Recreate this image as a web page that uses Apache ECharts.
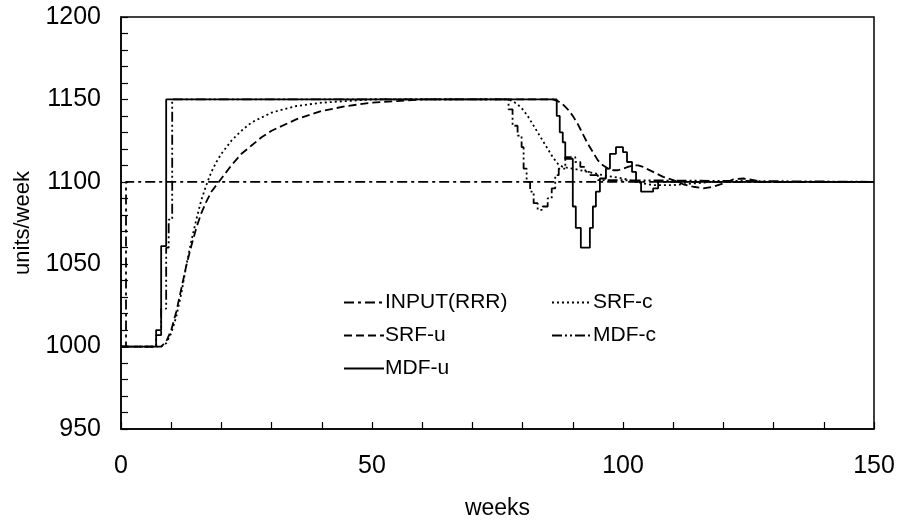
<!DOCTYPE html>
<html><head><meta charset="utf-8">
<script src="https://cdn.jsdelivr.net/npm/echarts@6/dist/echarts.min.js"></script>
<style>html,body{margin:0;padding:0;background:#fff}#c{width:901px;height:521px}</style>
</head><body><div id="c"></div>
<script>
// ---- data (weeks, units/week) ----
const inputWeeks  = [0, 1, 150];
const inputValues = [1000, 1100, 1100];

const srfUWeeks  = [0, 8, 9, 10, 11, 12, 13, 14, 15, 16, 17, 18, 19, 20, 22, 24, 26, 28, 30, 35, 40, 45, 50, 55, 60, 86, 87, 88, 89, 90, 91, 92, 93, 94, 95, 96, 97, 98, 99, 100, 101, 102, 103, 104, 106, 108, 110, 112, 114, 116, 118, 120, 122, 124, 126, 128, 130, 150];
const srfUValues = [1000, 1000, 1003, 1010, 1021, 1035, 1049, 1061, 1072, 1081, 1088, 1094, 1098, 1102, 1110, 1117, 1122, 1127, 1131, 1138, 1143, 1146, 1148, 1149, 1150, 1150, 1149, 1147, 1144, 1140, 1135, 1129, 1123, 1118, 1113, 1110, 1108, 1107, 1107, 1108, 1109, 1110, 1110, 1109, 1106, 1103, 1101, 1098.5, 1097, 1096, 1097, 1099, 1101.5, 1102, 1101, 1100, 1100, 1100];

const srfCWeeks  = [0, 8, 9, 10, 11, 12, 13, 14, 15, 16, 17, 18, 19, 20, 22, 24, 26, 28, 30, 35, 40, 45, 50, 77, 78, 79, 80, 81, 82, 83, 84, 85, 86, 87, 88, 90, 93, 96, 100, 104, 106, 110, 114, 118, 150];
const srfCValues = [1000, 1000, 1002, 1008, 1018, 1032, 1049, 1064, 1077, 1089, 1098, 1106, 1112, 1117, 1125, 1131, 1136, 1139, 1142, 1146, 1148, 1149, 1150, 1150, 1149, 1147, 1144, 1140, 1135, 1130, 1125, 1120, 1115, 1111, 1109, 1108, 1106, 1104, 1102, 1099, 1098, 1098, 1099, 1100, 1100];

// step series: value holds from week[i] until week[i+1]
const mdfCWeeks  = [0, 7, 8, 9, 9.5, 10.2, 77.2, 78, 79, 79.8, 80.2, 80.8, 81.5, 82.2, 83, 84, 85, 85.8, 86.5, 87.2, 88.5, 90.5, 91.5, 92.5, 93.5, 95, 96, 150];
const mdfCValues = [1000, 1007, 1023, 1060, 1077, 1150, 1144, 1134, 1128, 1121, 1108, 1100, 1094, 1087, 1083, 1085, 1090, 1096, 1104, 1108, 1115, 1112, 1109, 1106, 1104, 1101, 1100, 1100];

const mdfUWeeks  = [0, 7, 8, 9, 86.8, 87.4, 88, 88.5, 90, 90.6, 91.6, 93.4, 94, 94.6, 95.4, 96.6, 97.4, 98.6, 100, 100.8, 101.8, 102.6, 103.6, 106, 107, 150];
const mdfUValues = [1000, 1010, 1061, 1150, 1140, 1130, 1124, 1114, 1085, 1072, 1060, 1072, 1085, 1094, 1102, 1108, 1117, 1121, 1118, 1112, 1106, 1100, 1094, 1096, 1100, 1100];

const xTicks = [0, 50, 100, 150];
const yTicks = [950, 1000, 1050, 1100, 1150, 1200];

const zip = (xs, ys) => xs.map((x, i) => [x, ys[i]]);

const FONT = 'Liberation Sans';
const chart = echarts.init(document.getElementById('c'), null, {renderer: 'canvas'});

function lineSeries(name, xs, ys, type, step) {
  return {
    name, type: 'line', data: zip(xs, ys), step: step || false,
    symbol: 'none', showSymbol: false, smooth: false,
    lineStyle: {color: '#000', width: 1.8, type},
    itemStyle: {color: '#000'},
    z: 3
  };
}

const legendBase = {
  orient: 'vertical', top: 287,
  itemWidth: 40, itemHeight: 14, itemGap: 12,
  itemStyle: {opacity: 0},
  textStyle: {fontSize: 21, fontFamily: FONT, color: '#000', padding: [0, 0, 0, -4]}
};

chart.setOption({
  animation: false,
  backgroundColor: '#fff',
  textStyle: {fontFamily: FONT, color: '#000'},
  grid: {left: 121, right: 27, top: 17, bottom: 92, containLabel: false, outerBoundsMode: 'none',
         show: true, borderColor: '#000', borderWidth: 1.5, backgroundColor: 'transparent'},
  xAxis: {
    type: 'value', min: xTicks[0], max: xTicks[xTicks.length - 1], interval: 50,
    name: 'weeks', nameLocation: 'middle', nameGap: 68,
    nameTextStyle: {fontSize: 23, fontFamily: FONT, color: '#000'},
    axisLine: {show: true, lineStyle: {color: '#000', width: 1.5}},
    axisTick: {show: true, inside: true, length: 7, lineStyle: {color: '#000', width: 1.2}},
    minorTick: {show: true, splitNumber: 5, length: 7, lineStyle: {color: '#000', width: 1.2}},
    axisLabel: {fontSize: 25, fontFamily: FONT, color: '#000', margin: 25, formatter: v => String(v)},
    splitLine: {show: false}
  },
  yAxis: {
    type: 'value', min: yTicks[0], max: yTicks[yTicks.length - 1], interval: 50,
    name: 'units/week', nameLocation: 'middle', nameGap: 87, nameRotate: 90,
    nameTextStyle: {fontSize: 22, fontFamily: FONT, color: '#000'},
    axisLine: {show: true, lineStyle: {color: '#000', width: 1.5}},
    axisTick: {show: true, inside: true, length: 7, lineStyle: {color: '#000', width: 1.2}},
    minorTick: {show: true, splitNumber: 5, length: 7, lineStyle: {color: '#000', width: 1.2}},
    axisLabel: {fontSize: 25, fontFamily: FONT, color: '#000', margin: 20, formatter: v => String(v)},
    splitLine: {show: false}
  },
  legend: [
    Object.assign({data: ['INPUT(RRR)', 'SRF-u', 'MDF-u'], left: 338}, legendBase),
    Object.assign({data: ['SRF-c', 'MDF-c'], left: 546}, legendBase)
  ],
  series: [
    lineSeries('INPUT(RRR)', inputWeeks, inputValues, [10, 4, 3, 4], 'end'),
    lineSeries('SRF-c', srfCWeeks, srfCValues, [2, 3]),
    lineSeries('SRF-u', srfUWeeks, srfUValues, [8, 4]),
    lineSeries('MDF-c', mdfCWeeks, mdfCValues, [10, 3, 2, 3, 2, 3], 'end'),
    lineSeries('MDF-u', mdfUWeeks, mdfUValues, 'solid', 'end')
  ]
});
</script></body></html>
